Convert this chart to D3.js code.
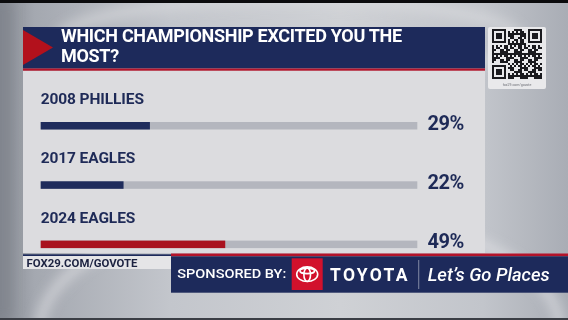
<!DOCTYPE html>
<html>
<head>
<meta charset="utf-8">
<script src="https://cdn.jsdelivr.net/npm/d3@7"></script>
<style>
  html, body { margin: 0; padding: 0; background: #b9bcc2; overflow: hidden; }
  svg { display: block; font-family: Roboto, "Liberation Sans", sans-serif; }
</style>
</head>
<body>
<div id="main"></div>
<script>

var title = ["WHICH CHAMPIONSHIP EXCITED YOU THE", "MOST?"];
var categories = ["2008 PHILLIES", "2017 EAGLES", "2024 EAGLES"];
var values = [29, 22, 49];
var barColors = ["#1f2c5c", "#1f2c5c", "#a9121f"];
var siteLabel = "FOX29.COM/GOVOTE";
var sponsorLabel = "SPONSORED BY:";
var brandName = "TOYOTA";
var slogan = "Let\u2019s Go Places";

var dimensions = {
  width: 568,
  height: 320,
  panel: { left: 23, right: 485, top: 27, bottom: 253 }
}

var navy = "#1d2a5b";
var red = "#b3132a";

var SVG = d3.select("#main")
  .append("svg")
    .attr("width", dimensions.width)
    .attr("height", dimensions.height);

var defs = SVG.append("defs");

var bg = defs.append("linearGradient").attr("id", "bg")
  .attr("x1", 0).attr("x2", 1).attr("y1", 0).attr("y2", 0);
[[0, "#878b93"], [0.06, "#a4a8b0"], [0.3, "#c3c6cc"], [0.6, "#cfd1d5"], [0.85, "#c2c5cb"], [1, "#a9adb5"]]
  .forEach(function(s) { bg.append("stop").attr("offset", s[0]).attr("stop-color", s[1]); });

defs.append("filter").attr("id", "blur")
  .append("feGaussianBlur").attr("stdDeviation", 6);

// background
SVG.append("rect")
  .attr("width", dimensions.width).attr("height", dimensions.height)
  .attr("fill", "url(#bg)");

var swirl = SVG.append("g").attr("filter", "url(#blur)").attr("fill", "none");
swirl.append("ellipse")
  .attr("cx", 300).attr("cy", 330).attr("rx", 260).attr("ry", 120)
  .attr("stroke", "#e4e5e8").attr("stroke-width", 10).attr("opacity", 0.6);
swirl.append("ellipse")
  .attr("cx", 290).attr("cy", 40).attr("rx", 230).attr("ry", 40)
  .attr("stroke", "#e0e1e4").attr("stroke-width", 12).attr("opacity", 0.5);
swirl.append("rect")
  .attr("x", -10).attr("y", 0).attr("width", 22).attr("height", 320)
  .attr("fill", "#7f838b").attr("opacity", 0.7);

SVG.append("rect").attr("x", 0).attr("y", 0).attr("width", 568).attr("height", 3).attr("fill", "#0b0b0d");
SVG.append("rect").attr("x", 0).attr("y", 318).attr("width", 568).attr("height", 2).attr("fill", "#3b3e45");

// panel
SVG.append("rect")
  .attr("x", dimensions.panel.left).attr("y", 70.5)
  .attr("width", dimensions.panel.right - dimensions.panel.left)
  .attr("height", dimensions.panel.bottom - 70.5)
  .attr("fill", "#dcdcdf");

// header
SVG.append("rect")
  .attr("x", dimensions.panel.left).attr("y", dimensions.panel.top)
  .attr("width", dimensions.panel.right - dimensions.panel.left).attr("height", 41.5)
  .attr("fill", navy);
SVG.append("rect")
  .attr("x", dimensions.panel.left).attr("y", 68.5)
  .attr("width", dimensions.panel.right - dimensions.panel.left).attr("height", 2.2)
  .attr("fill", red);
SVG.append("path")
  .attr("d", "M23,30 L53,47.5 L23,65 Z")
  .attr("fill", "#b3111c");

SVG.append("text")
    .attr("fill", "#ffffff")
    .style("font-size", "18px")
    .style("font-weight", 700)
    .style("letter-spacing", "-0.3px")
  .selectAll("tspan")
  .data(title)
  .enter()
  .append("tspan")
    .attr("x", 61)
    .attr("y", function(d, i) { return 41.5 + i * 20.5; })
    .text(function(d) { return d; });

// bars
var x = d3.scaleLinear()
  .domain([0, 100])
  .range([40.7, 417.3]);

var y = d3.scalePoint()
  .domain(categories)
  .range([104, 222.6]);

var rows = SVG.append("g")
  .selectAll("g")
  .data(categories)
  .enter()
  .append("g");

rows.append("text")
  .attr("x", x(0))
  .attr("y", function(d) { return y(d); })
  .attr("fill", "#1e2a57")
  .style("font-size", "15.5px")
  .style("font-weight", 700)
  .style("letter-spacing", "-0.1px")
  .text(function(d) { return d; });

rows.append("rect")
  .attr("x", x(0))
  .attr("y", function(d) { return y(d) + 18; })
  .attr("width", x(100) - x(0))
  .attr("height", 7.5)
  .attr("fill", "#b4b6be");

rows.append("rect")
  .attr("x", x(0))
  .attr("y", function(d) { return y(d) + 18; })
  .attr("width", function(d, i) { return x(values[i]) - x(0); })
  .attr("height", 7.5)
  .attr("fill", function(d, i) { return barColors[i]; });

rows.append("text")
  .attr("x", 464)
  .attr("y", function(d) { return y(d) + 25.5; })
  .attr("text-anchor", "end")
  .attr("fill", "#1e2a57")
  .style("font-size", "20px")
  .style("font-weight", 700)
  .style("letter-spacing", "-0.4px")
  .text(function(d, i) { return values[i] + "%"; });

// qr card
SVG.append("rect")
  .attr("x", 488).attr("y", 27).attr("width", 58).attr("height", 62).attr("rx", 2)
  .attr("fill", "#e9e9eb");
var qr = SVG.append("g").attr("transform", "translate(492,29)");
var n = 25, m = 2;
var cells = [];
for (var i = 0; i < n; i++) {
  for (var j = 0; j < n; j++) {
    var inFinder = (i < 8 && j < 8) || (i < 8 && j >= n - 8) || (i >= n - 8 && j < 8);
    if (!inFinder && ((i * 7 + j * 13 + i * j * 3 + (i % 3) * j) % 7) < 4) cells.push([i, j]);
  }
}
qr.selectAll("rect.c").data(cells).enter().append("rect")
  .attr("x", function(d) { return d[1] * m; })
  .attr("y", function(d) { return d[0] * m; })
  .attr("width", m).attr("height", m)
  .attr("fill", "#1a1a1e");
[[0, 0], [0, n - 7], [n - 7, 0]].forEach(function(p) {
  qr.append("rect").attr("x", p[1] * m + 1).attr("y", p[0] * m + 1)
    .attr("width", 12).attr("height", 12)
    .attr("fill", "none").attr("stroke", "#1a1a1e").attr("stroke-width", 2);
  qr.append("rect").attr("x", p[1] * m + 4).attr("y", p[0] * m + 4)
    .attr("width", 6).attr("height", 6).attr("fill", "#1a1a1e");
});
SVG.append("text")
  .attr("x", 517).attr("y", 85.5).attr("text-anchor", "middle")
  .attr("fill", "#6d6f76").style("font-size", "3.5px")
  .text("fox29.com/govote");

// bottom strip
SVG.append("rect").attr("x", 23).attr("y", 254.3).attr("width", 148).attr("height", 1.8).attr("fill", navy);
SVG.append("rect").attr("x", 23).attr("y", 256).attr("width", 148).attr("height", 13).attr("fill", "#e5e5e7");
SVG.append("text")
  .attr("x", 26.5).attr("y", 266.7)
  .attr("fill", "#1c2240")
  .style("font-size", "11px").style("font-weight", 700)
  .attr("textLength", 111).attr("lengthAdjust", "spacingAndGlyphs")
  .text(siteLabel);

SVG.append("rect").attr("x", 171).attr("y", 253.5).attr("width", 397).attr("height", 2.8).attr("fill", red);
SVG.append("rect").attr("x", 171).attr("y", 256.3).attr("width", 397).attr("height", 36.4).attr("fill", navy);

SVG.append("text")
  .attr("x", 177.3).attr("y", 277.7)
  .attr("fill", "#ffffff")
  .style("font-size", "13px").style("font-weight", 500)
  .attr("textLength", 109).attr("lengthAdjust", "spacingAndGlyphs")
  .text(sponsorLabel);

SVG.append("rect").attr("x", 291.7).attr("y", 258.3).attr("width", 31).attr("height", 31.7).attr("fill", "#d2112c");
var logo = SVG.append("g").attr("transform", "translate(307.2,274.2)")
  .attr("fill", "none").attr("stroke", "#ffffff").attr("stroke-width", 1.6);
logo.append("ellipse").attr("rx", 10.5).attr("ry", 7.3);
logo.append("ellipse").attr("cx", 0).attr("cy", 0.5).attr("rx", 3.3).attr("ry", 6.7);
logo.append("ellipse").attr("cx", 0).attr("cy", -3.3).attr("rx", 7.3).attr("ry", 2.7);

SVG.append("text")
  .attr("x", 330).attr("y", 280.7)
  .attr("fill", "#ffffff")
  .style("font-size", "17.5px").style("font-weight", 700)
  .attr("textLength", 77.5).attr("lengthAdjust", "spacing")
  .text(brandName);

SVG.append("rect").attr("x", 418.3).attr("y", 260).attr("width", 0.9).attr("height", 29).attr("fill", "#8d94ad");

SVG.append("text")
  .attr("x", 427.7).attr("y", 280.7)
  .attr("fill", "#ffffff")
  .style("font-size", "18px").style("font-weight", 500).style("font-style", "italic")
  .attr("textLength", 122).attr("lengthAdjust", "spacingAndGlyphs")
  .text(slogan);

</script>
</body>
</html>
